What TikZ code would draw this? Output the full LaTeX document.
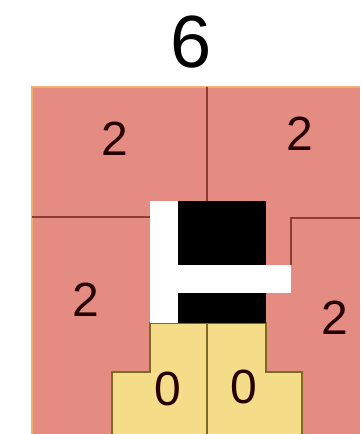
\documentclass[tikz,border=0pt]{standalone}
\usepackage{fontspec}
\setmainfont{Liberation Sans}
\definecolor{pinkfill}{HTML}{E48C82}
\definecolor{redline}{HTML}{8E3B33}
\definecolor{yelfill}{HTML}{F4DC88}
\definecolor{yelline}{HTML}{7E6A22}
\definecolor{edgeor}{HTML}{F0B070}
\begin{document}
\begin{tikzpicture}[x=1pt,y=-1pt,
  region/.style={draw=redline,line width=1.6pt},
  digit/.style={font=\fontsize{48}{48}\selectfont,text=black!85!red,inner sep=0pt},
  big/.style={font=\fontsize{74}{74}\selectfont,inner sep=0pt}]
\useasboundingbox (0,0) rectangle (360,434);
% pink background
\fill[pinkfill] (32,87) rectangle (360,434);
\draw[edgeor,line width=1.2pt] (32,434) -- (32,87) -- (360,87);
% dividing lines
\draw[region] (207,87) -- (207,201);
\draw[region] (32,217) -- (150,217);
\draw[region] (291,265) -- (291,218) -- (360,218);
% yellow stepped region
\draw[fill=yelfill,draw=yelline,line width=1.6pt]
  (150,323) -- (150,372) -- (112,372) -- (112,440) -- (302,440) -- (302,372) -- (266,372) -- (266,323) -- cycle;
\draw[yelline,line width=1.6pt] (207,323) -- (207,440);
% black block and white L
\fill[black] (178,201) rectangle (266,323);
\fill[white] (150,201) rectangle (178,323);
\fill[white] (178,265) rectangle (291,293);
% labels
\node[big] (six) at (191,42) {6};
\node[digit] (tl) at (115,139) {2};
\node[digit] (tr) at (300,134) {2};
\node[digit] (ml) at (86,300) {2};
\node[digit] (mr) at (335,318) {2};
\node[digit] (bl) at (168,389) {0};
\node[digit] (br) at (244,387) {0};
\end{tikzpicture}
\end{document}
